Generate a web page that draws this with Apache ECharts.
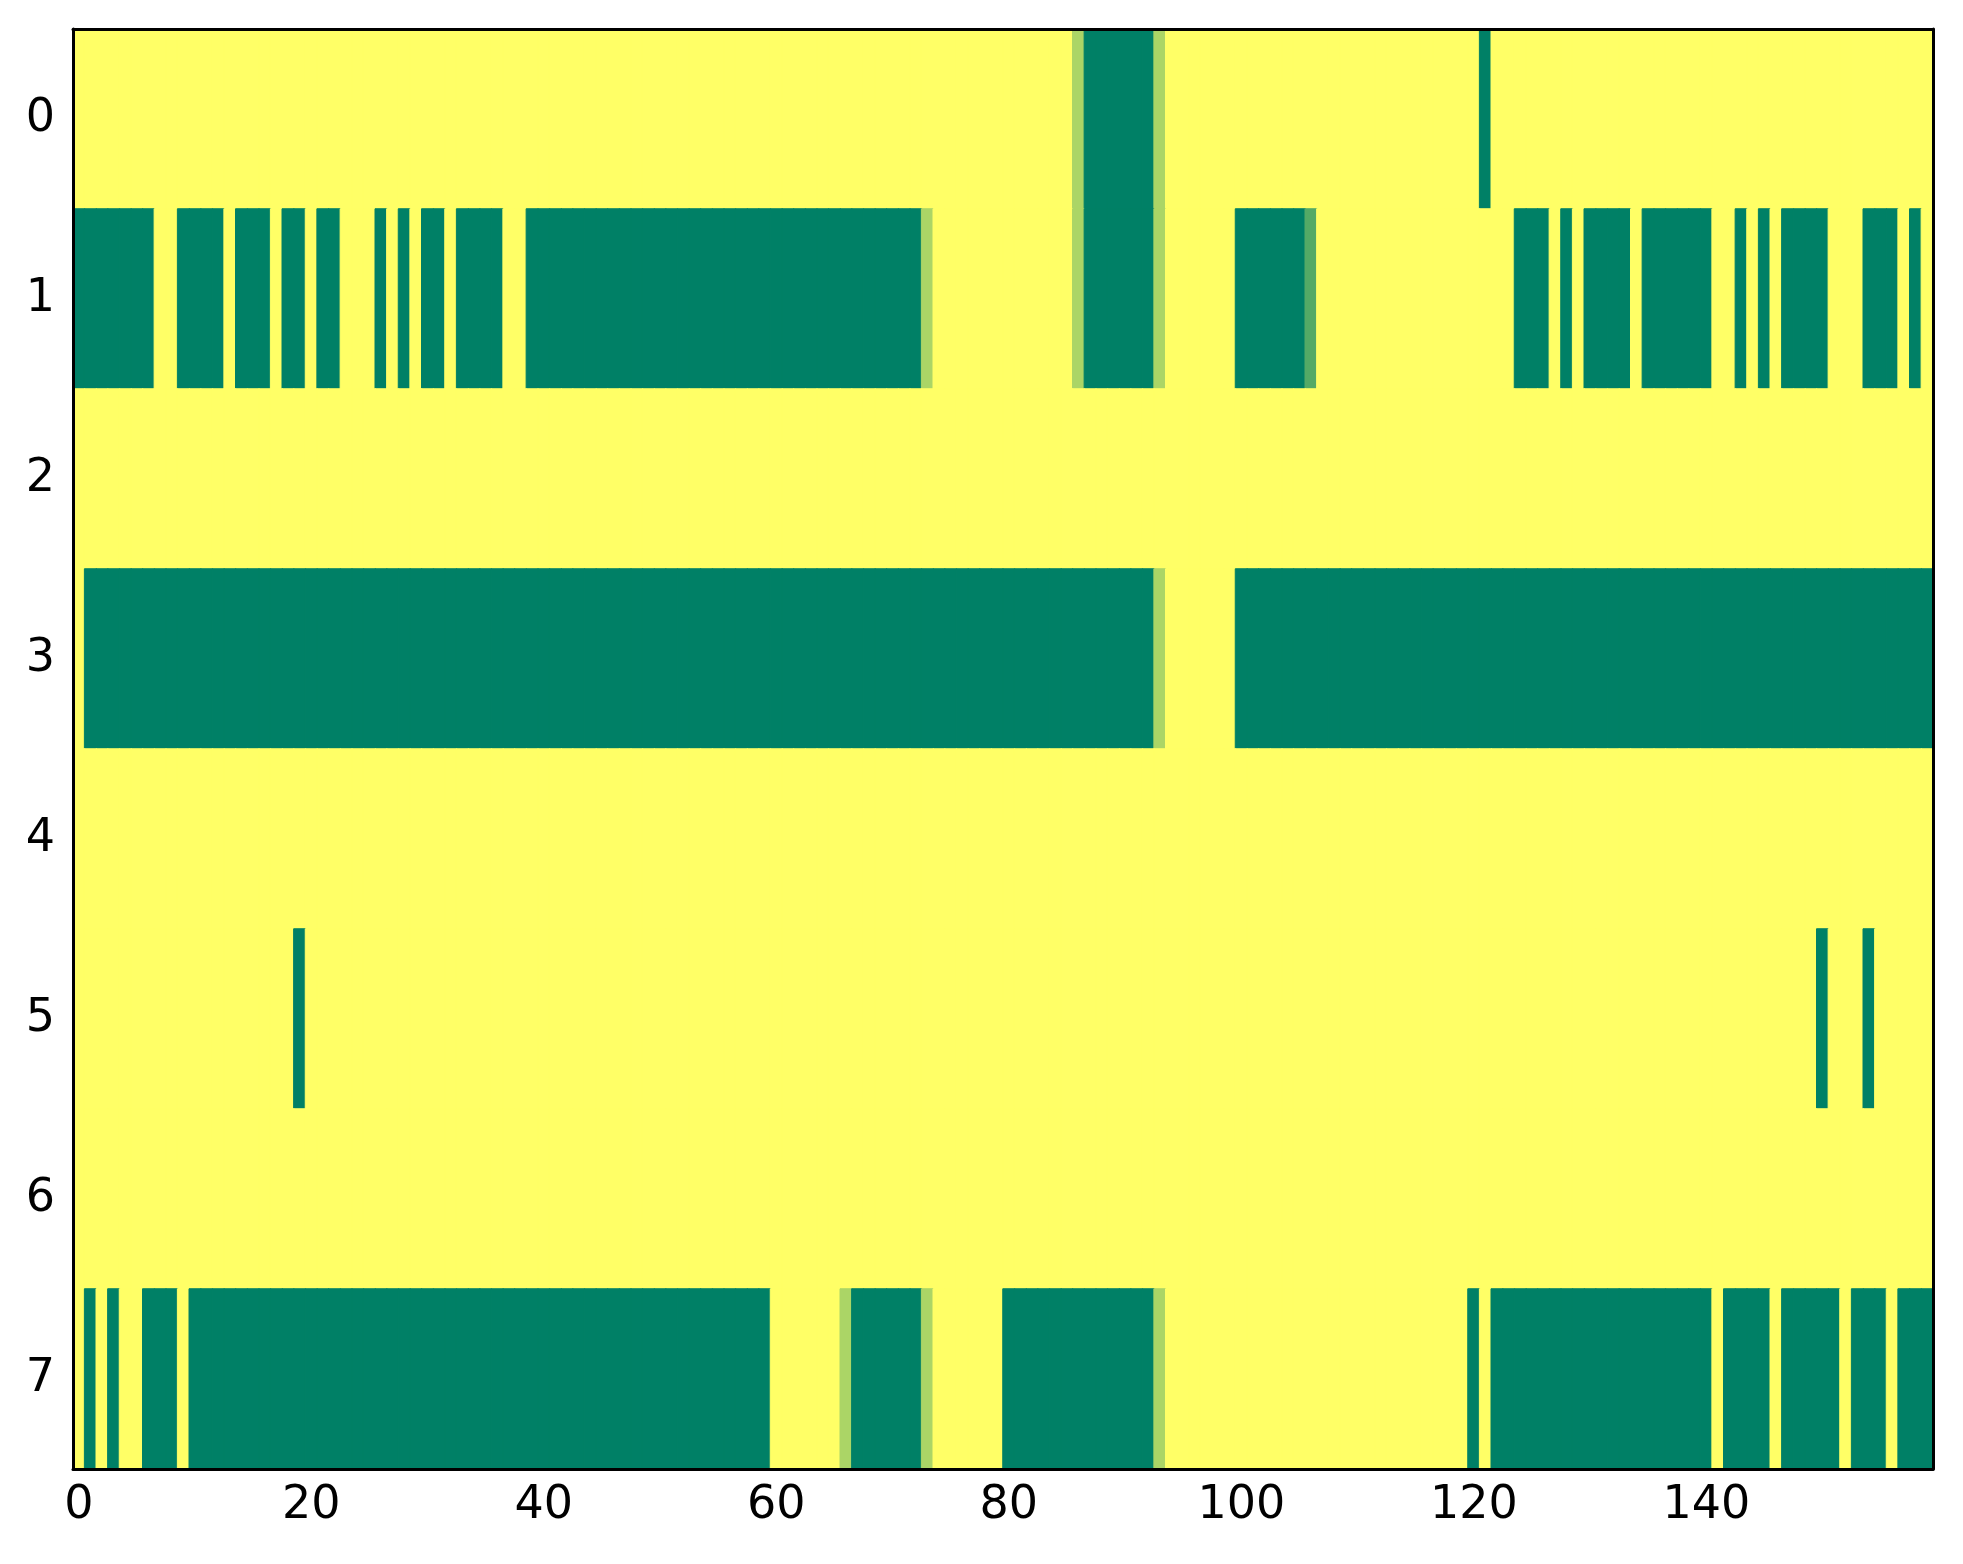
<!DOCTYPE html>
<html>
<head>
<meta charset="utf-8">
<script src="https://cdn.jsdelivr.net/npm/echarts@6/dist/echarts.min.js"></script>
<style>
html,body{margin:0;padding:0;background:#fff;}
#chart{width:1963px;height:1564px;}
</style>
</head>
<body>
<div id="chart"></div>
<script>
// column index 0..159 and row index 0..7
var cols = [];
for (var i = 0; i < 160; i++) cols.push(String(i));
var rowNames = ['0','1','2','3','4','5','6','7'];

// cell values, 20 per line (0 = yellow, 1 = green)
var row0 = [
0,0,0,0,0,0,0,0,0,0,0,0,0,0,0,0,0,0,0,0,
0,0,0,0,0,0,0,0,0,0,0,0,0,0,0,0,0,0,0,0,
0,0,0,0,0,0,0,0,0,0,0,0,0,0,0,0,0,0,0,0,
0,0,0,0,0,0,0,0,0,0,0,0,0,0,0,0,0,0,0,0,
0,0,0,0,0,0,0.33,1,1,1,1,1,1,0.33,0,0,0,0,0,0,
0,0,0,0,0,0,0,0,0,0,0,0,0,0,0,0,0,0,0,0,
0,1,0,0,0,0,0,0,0,0,0,0,0,0,0,0,0,0,0,0,
0,0,0,0,0,0,0,0,0,0,0,0,0,0,0,0,0,0,0,0
];
var row1 = [
1,1,1,1,1,1,1,0,0,1,1,1,1,0,1,1,1,0,1,1,
0,1,1,0,0,0,1,0,1,0,1,1,0,1,1,1,1,0,0,1,
1,1,1,1,1,1,1,1,1,1,1,1,1,1,1,1,1,1,1,1,
1,1,1,1,1,1,1,1,1,1,1,1,1,0.33,0,0,0,0,0,0,
0,0,0,0,0,0,0.33,1,1,1,1,1,1,0.33,0,0,0,0,0,0,
1,1,1,1,1,1,0.67,0,0,0,0,0,0,0,0,0,0,0,0,0,
0,0,0,0,1,1,1,0,1,0,1,1,1,1,0,1,1,1,1,1,
1,0,0,1,0,1,0,1,1,1,1,0,0,0,1,1,1,0,1,0
];
var row2 = [
0,0,0,0,0,0,0,0,0,0,0,0,0,0,0,0,0,0,0,0,
0,0,0,0,0,0,0,0,0,0,0,0,0,0,0,0,0,0,0,0,
0,0,0,0,0,0,0,0,0,0,0,0,0,0,0,0,0,0,0,0,
0,0,0,0,0,0,0,0,0,0,0,0,0,0,0,0,0,0,0,0,
0,0,0,0,0,0,0,0,0,0,0,0,0,0,0,0,0,0,0,0,
0,0,0,0,0,0,0,0,0,0,0,0,0,0,0,0,0,0,0,0,
0,0,0,0,0,0,0,0,0,0,0,0,0,0,0,0,0,0,0,0,
0,0,0,0,0,0,0,0,0,0,0,0,0,0,0,0,0,0,0,0
];
var row3 = [
0,1,1,1,1,1,1,1,1,1,1,1,1,1,1,1,1,1,1,1,
1,1,1,1,1,1,1,1,1,1,1,1,1,1,1,1,1,1,1,1,
1,1,1,1,1,1,1,1,1,1,1,1,1,1,1,1,1,1,1,1,
1,1,1,1,1,1,1,1,1,1,1,1,1,1,1,1,1,1,1,1,
1,1,1,1,1,1,1,1,1,1,1,1,1,0.33,0,0,0,0,0,0,
1,1,1,1,1,1,1,1,1,1,1,1,1,1,1,1,1,1,1,1,
1,1,1,1,1,1,1,1,1,1,1,1,1,1,1,1,1,1,1,1,
1,1,1,1,1,1,1,1,1,1,1,1,1,1,1,1,1,1,1,1
];
var row4 = [
0,0,0,0,0,0,0,0,0,0,0,0,0,0,0,0,0,0,0,0,
0,0,0,0,0,0,0,0,0,0,0,0,0,0,0,0,0,0,0,0,
0,0,0,0,0,0,0,0,0,0,0,0,0,0,0,0,0,0,0,0,
0,0,0,0,0,0,0,0,0,0,0,0,0,0,0,0,0,0,0,0,
0,0,0,0,0,0,0,0,0,0,0,0,0,0,0,0,0,0,0,0,
0,0,0,0,0,0,0,0,0,0,0,0,0,0,0,0,0,0,0,0,
0,0,0,0,0,0,0,0,0,0,0,0,0,0,0,0,0,0,0,0,
0,0,0,0,0,0,0,0,0,0,0,0,0,0,0,0,0,0,0,0
];
var row5 = [
0,0,0,0,0,0,0,0,0,0,0,0,0,0,0,0,0,0,0,1,
0,0,0,0,0,0,0,0,0,0,0,0,0,0,0,0,0,0,0,0,
0,0,0,0,0,0,0,0,0,0,0,0,0,0,0,0,0,0,0,0,
0,0,0,0,0,0,0,0,0,0,0,0,0,0,0,0,0,0,0,0,
0,0,0,0,0,0,0,0,0,0,0,0,0,0,0,0,0,0,0,0,
0,0,0,0,0,0,0,0,0,0,0,0,0,0,0,0,0,0,0,0,
0,0,0,0,0,0,0,0,0,0,0,0,0,0,0,0,0,0,0,0,
0,0,0,0,0,0,0,0,0,0,1,0,0,0,1,0,0,0,0,0
];
var row6 = [
0,0,0,0,0,0,0,0,0,0,0,0,0,0,0,0,0,0,0,0,
0,0,0,0,0,0,0,0,0,0,0,0,0,0,0,0,0,0,0,0,
0,0,0,0,0,0,0,0,0,0,0,0,0,0,0,0,0,0,0,0,
0,0,0,0,0,0,0,0,0,0,0,0,0,0,0,0,0,0,0,0,
0,0,0,0,0,0,0,0,0,0,0,0,0,0,0,0,0,0,0,0,
0,0,0,0,0,0,0,0,0,0,0,0,0,0,0,0,0,0,0,0,
0,0,0,0,0,0,0,0,0,0,0,0,0,0,0,0,0,0,0,0,
0,0,0,0,0,0,0,0,0,0,0,0,0,0,0,0,0,0,0,0
];
var row7 = [
0,1,0,1,0,0,1,1,1,0,1,1,1,1,1,1,1,1,1,1,
1,1,1,1,1,1,1,1,1,1,1,1,1,1,1,1,1,1,1,1,
1,1,1,1,1,1,1,1,1,1,1,1,1,1,1,1,1,1,1,1,
0,0,0,0,0,0,0.33,1,1,1,1,1,1,0.33,0,0,0,0,0,0,
1,1,1,1,1,1,1,1,1,1,1,1,1,0.33,0,0,0,0,0,0,
0,0,0,0,0,0,0,0,0,0,0,0,0,0,0,0,0,0,0,0,
1,0,1,1,1,1,1,1,1,1,1,1,1,1,1,1,1,1,1,1,
1,0,1,1,1,1,0,1,1,1,1,1,0,1,1,1,0,1,1,1
];

// summer_r colormap ends
var lowCol = [255,255,102];
var highCol = [0,128,102];
function cmap(v){
	var c = [];
	for (var k = 0; k < 3; k++) c.push(Math.round(lowCol[k] + (highCol[k]-lowCol[k])*v));
	return 'rgb(' + c.join(',') + ')';
}

var rows = [row0,row1,row2,row3,row4,row5,row6,row7];
var cells = [];
for (var r = 0; r < rows.length; r++) {
	for (var c = 0; c < rows[r].length; c++) {
		var col = cmap(rows[r][c]);
		cells.push({
			value:[c, r, rows[r][c]],
			itemStyle:{color:col, borderColor:col, borderWidth:1}
		});
	}
}

var axisCol = '#000';
var labelFont = {color:'#000', fontSize:46, fontFamily:'DejaVu Sans'};

var myChart = echarts.init(document.getElementById('chart'));
var option = {
	animation:false,
	backgroundColor:'#fff',
	grid:{left:73, right:30, top:29, bottom:95},
	xAxis:[
		{
			type:'category',
			data:cols,
			position:'bottom',
			axisLine:{lineStyle:{color:axisCol, width:3}},
			axisTick:{inside:true, length:15, interval:19, alignWithLabel:true, lineStyle:{color:axisCol, width:2}},
			axisLabel:Object.assign({interval:19, margin:14}, labelFont),
			splitLine:{show:false},
			z:10
		},
		{
			type:'category',
			data:cols,
			position:'top',
			axisLine:{lineStyle:{color:axisCol, width:3}},
			axisTick:{inside:true, length:15, interval:19, alignWithLabel:true, lineStyle:{color:axisCol, width:2}},
			axisLabel:{show:false},
			splitLine:{show:false},
			z:10
		}
	],
	yAxis:[
		{
			type:'category',
			data:rowNames,
			inverse:true,
			position:'left',
			axisLine:{lineStyle:{color:axisCol, width:3}},
			axisTick:{inside:true, length:15, alignWithLabel:true, lineStyle:{color:axisCol, width:2}},
			axisLabel:Object.assign({margin:18}, labelFont),
			splitLine:{show:false},
			z:10
		},
		{
			type:'category',
			data:rowNames,
			inverse:true,
			position:'right',
			axisLine:{lineStyle:{color:axisCol, width:3}},
			axisTick:{inside:true, length:15, alignWithLabel:true, lineStyle:{color:axisCol, width:2}},
			axisLabel:{show:false},
			splitLine:{show:false},
			z:10
		}
	],
	series:[
		{
			type:'heatmap',
			xAxisIndex:0,
			yAxisIndex:0,
			data:cells,
			emphasis:{disabled:true}
		}
	]
};
myChart.setOption(option);
</script>
</body>
</html>
